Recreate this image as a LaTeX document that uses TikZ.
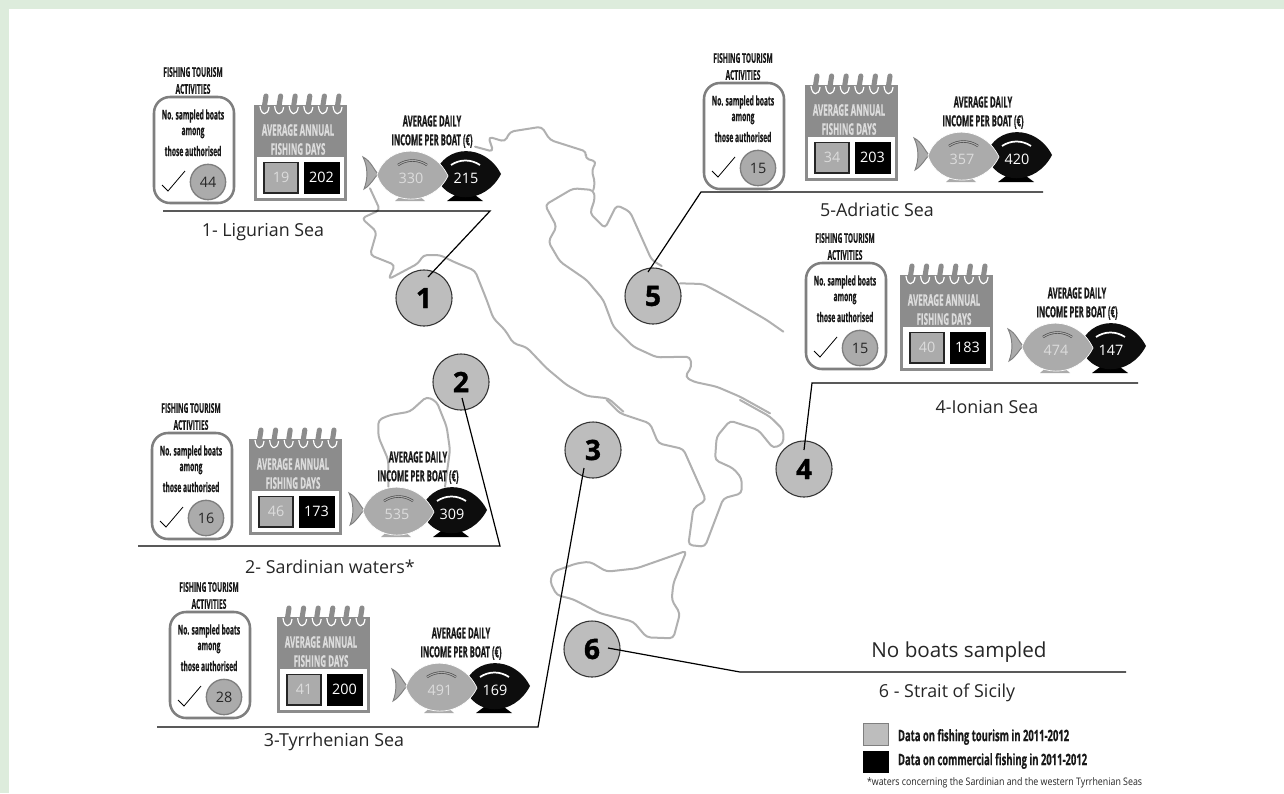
\documentclass[tikz,border=0pt]{standalone}
\usepackage{fontspec}
\setmainfont{Open Sans}
\newfontfamily\cnd[FakeStretch=0.5,BoldFeatures={FakeBold=0.4}]{Open Sans}
\newfontfamily\cndl[FakeStretch=0.6,BoldFeatures={FakeBold=0.4}]{Open Sans}
\newfontfamily\foot[FakeStretch=0.85]{Open Sans}
\newfontfamily\heavy[BoldFeatures={FakeBold=1.2}]{Open Sans}
\definecolor{bggreen}{HTML}{DDECDC}
\definecolor{mapgray}{HTML}{B0B0B0}
\definecolor{boxgray}{HTML}{7F7F7F}
\definecolor{calgray}{HTML}{8C8C8C}
\definecolor{lightfill}{HTML}{ABABAB}
\definecolor{circfill}{HTML}{BDBDBD}
\definecolor{paletxt}{HTML}{DCDCDC}
\tikzset{
  txt/.style={inner sep=0pt,outer sep=0pt,align=center},
  smalltitle/.style={txt,font=\fontsize{10}{11}\cnd\bfseries,text=black!90},
  headtitle/.style={txt,font=\fontsize{11.5}{12}\cnd\bfseries,text=black!90},
  caltitle/.style={txt,font=\fontsize{12}{13}\cnd\bfseries,text=paletxt},
  num/.style={txt,font=\fontsize{10.8}{11}\selectfont},
  sealabel/.style={txt,font=\fontsize{13.4}{14}\selectfont,text=black!85},
  mapline/.style={mapgray,line width=1.5pt,line join=round,line cap=round},
  leader/.style={black,line width=0.9pt,line join=miter},
  bignum/.style={circle,draw=black!80,line width=0.8pt,fill=circfill,minimum size=42pt,inner sep=0pt,outer sep=0pt,font=\fontsize{21}{22}\heavy\bfseries},
}
\newcommand\sampbox[4]{%
\begin{scope}[shift={(#2,#3)}]
  \node[smalltitle] (#1t1) at (39,-25) {FISHING TOURISM};
  \node[smalltitle] (#1t2) at (39,-8) {ACTIVITIES};
  \draw[boxgray,line width=1.9pt,fill=white,rounded corners=12pt] (0,0) rectangle (80,106);
  \node[smalltitle] (#1l1) at (39,19) {No. sampled boats};
  \node[smalltitle] (#1l2) at (39,36) {among};
  \node[smalltitle] (#1l3) at (39,54) {those authorised};
  \draw[black,line width=0.6pt] (8,88) -- (14,94) -- (31,74);
  \node[circle,draw=boxgray,line width=1pt,fill=lightfill,minimum size=26.5pt,inner sep=0pt,num,text=black!85] (#1n) at (54,85) {#4};
\end{scope}}
\newcommand\calpic[5]{%
\begin{scope}[shift={(#2,#3)}]
  \fill[calgray] (0,0) rectangle (93,96);
  \fill[white] (3,52) rectangle (90,93);
  \foreach \k in {0,1,2,3,4,5}{
    \pgfmathsetmacro\rx{11+14.6*\k}
    \draw[white,line width=0.9pt] (\rx-5,1) .. controls (\rx-4,11) and (\rx+3,11) .. (\rx+4,2);
    \draw[calgray,line width=3.8pt,line cap=round] (\rx+1,-9) -- (\rx-1,4);
  }
  \node[caltitle] (#1a) at (44,25) {AVERAGE ANNUAL};
  \node[caltitle] (#1b) at (44,44) {FISHING DAYS};
  \node[draw=black!85,line width=0.8pt,fill=lightfill,minimum width=25.5pt,minimum height=23.2pt,inner sep=0pt,num,text=paletxt] (#1x) at (27,72.5) {#4};
  \node[draw=black,fill=black,minimum width=26.2pt,minimum height=23.2pt,inner sep=0pt,num,text=white] (#1y) at (67.5,72.5) {#5};
\end{scope}}
\newcommand\fishpic[5]{%
\begin{scope}[shift={(#2,#3)}]
  \node[headtitle] (#1h1) at (69,-52) {AVERAGE DAILY};
  \node[headtitle] (#1h2) at (69,-32) {INCOME PER BOAT (€)};
  % black fish
  \fill[black] (84,28) -- (92,22) -- (112,22) -- (120,28) -- cycle;
  \fill[black!95] (72,1) .. controls (82,-29) and (122,-30) .. (138,1) .. controls (122,32) and (82,32) .. (72,1) -- cycle;
  \draw[white,line width=1.3pt] (88,-8) .. controls (97,-14) and (108,-14) .. (117,-8);
  % tail
  \draw[boxgray,line width=0.7pt,fill=lightfill] (0,-16) .. controls (8,-12) and (11,-3) .. (15,1) .. controls (11,5) and (8,12) .. (1,16) .. controls (5,6) and (5,-6) .. (0,-16) -- cycle;
  % foot
  \fill[lightfill] (32,28) -- (40,21) -- (54,21) -- (62,28) -- cycle;
  % light fish
  \draw[white,line width=0.5pt,fill=lightfill] (14,2) .. controls (24,-30) and (70,-30) .. (85,3) .. controls (70,34) and (24,34) .. (14,2) -- cycle;
  \draw[black!70,line width=1.8pt] (35,-8) .. controls (44,-14) and (55,-14) .. (64,-8);
  \draw[lightfill,line width=0.8pt] (35,-8) .. controls (44,-14) and (55,-14) .. (64,-8);
  \node[num,text=paletxt] (#1n1) at (48,5) {#4};
  \node[num,text=white] (#1n2) at (103,5) {#5};
\end{scope}}
\begin{document}
\begin{tikzpicture}[x=0.75pt,y=-0.75pt]
\useasboundingbox (0,0) rectangle (1284,793);
\fill[bggreen] (0,0) rectangle (1284,793);
\fill[white] (9,9) rectangle (1284,793);

% --- map of Italy
\begin{scope}[shift={(340,120)},x=0.25pt,y=-0.25pt]
  % north coast
  \draw[mapline,rounded corners=3pt] (405,80) -- (460,95) -- (445,50) -- (495,65) -- (510,35) -- (605,20) -- (630,60) -- (740,95) -- (735,115) -- (770,125) -- (755,150) -- (765,190) -- (760,210);
  % west coast
  \draw[mapline,rounded corners=3pt] (90,205) -- (120,270) -- (65,295) -- (110,335) -- (90,405) -- (165,435) -- (145,478) -- (235,430) -- (250,405) -- (300,405) -- (340,425) -- (405,452) -- (440,540) -- (460,595) -- (495,630) -- (520,670) -- (560,682) -- (620,745) -- (680,795) -- (740,828) -- (805,835) -- (850,875);
  % east coast
  \draw[mapline,rounded corners=3pt] (1290,880) -- (1200,830) -- (1130,800) -- (1060,785) -- (1035,770) -- (1055,740) -- (1050,710) -- (950,712) -- (880,680) -- (820,620) -- (790,540) -- (740,480) -- (660,425) -- (625,365) -- (650,320) -- (615,255) -- (700,205) -- (760,210) -- (765,235) -- (750,280) -- (795,325) -- (830,255) -- (870,275) -- (935,420) -- (965,438);
  \draw[mapline,rounded corners=3pt] (1020,490) -- (1090,492) -- (1160,530) -- (1280,600) -- (1330,635);
\end{scope}
\begin{scope}[shift={(440,400)},x=0.25pt,y=-0.25pt]
  % south
  \draw[mapline,rounded corners=3pt] (500,0) -- (540,40) -- (630,70) -- (655,130) -- (730,147) -- (798,300) -- (760,325) -- (745,435) -- (795,440) -- (850,295) -- (905,280) -- (905,235) -- (880,205) -- (825,180) -- (830,110) -- (870,62) -- (955,90) -- (1000,145) -- (1030,130) -- (1030,90) -- (990,50) -- (900,0);
  % Sicily
  \draw[mapline,rounded corners=3pt] (740,452) -- (690,470) -- (590,505) -- (500,515) -- (450,485) -- (410,490) -- (340,515) -- (330,545) -- (350,585) -- (400,598) -- (480,640) -- (580,665) -- (620,712) -- (700,715) -- (720,640) -- (695,600) -- (700,550) -- cycle;
\end{scope}
\begin{scope}[shift={(130,390)},x=0.25pt,y=-0.25pt]
  % Sardinia
  \draw[mapline,rounded corners=3pt] (775,290) -- (775,210) -- (745,140) -- (745,90) -- (780,75) -- (840,65) -- (890,20) -- (920,35) -- (950,110) -- (960,180) -- (945,290);
\end{scope}

% --- numbered circles
\node[bignum] (c1) at (424,298) {1};
\node[bignum] (c2) at (461,382) {2};
\node[bignum] (c3) at (593,450) {3};
\node[bignum] (c4) at (804,469) {4};
\node[bignum] (c5) at (653,296) {5};
\node[bignum] (c6) at (592,649) {6};

% --- leader lines
\coordinate (k1) at (428,277); \coordinate (e1) at (490,211); \coordinate (f1) at (163,211);
\coordinate (k2) at (462,398); \coordinate (e2) at (500,546); \coordinate (f2) at (138,546);
\coordinate (k3) at (584,468); \coordinate (e3) at (538,727); \coordinate (f3) at (157,727);
\coordinate (k4) at (804,450); \coordinate (e4) at (812,383); \coordinate (f4) at (1138,383);
\coordinate (k5) at (648,272); \coordinate (e5) at (701,192); \coordinate (f5) at (1043,192);
\coordinate (k6) at (608,648); \coordinate (e6) at (740,672); \coordinate (f6) at (1126,672);
\draw[leader] (k1) -- (e1) -- (f1);
\draw[leader] (k2) -- (e2) -- (f2);
\draw[leader] (k3) -- (e3) -- (f3);
\draw[leader] (k4) -- (e4) -- (f4);
\draw[leader] (k5) -- (e5) -- (f5);
\draw[leader] (k6) -- (e6) -- (f6);

% --- panels
\sampbox{ba}{154}{97}{44}  \calpic{ca}{254}{105}{19}{202} \fishpic{fa}{363}{173}{330}{215}
\sampbox{bb}{152}{433}{16} \calpic{cb}{249}{439}{46}{173} \fishpic{fb}{349}{509}{535}{309}
\sampbox{bc}{170}{612}{28} \calpic{cc}{277}{617}{41}{200} \fishpic{fc}{392}{685}{491}{169}
\sampbox{bd}{806}{263}{15} \calpic{cd}{900}{275}{40}{183} \fishpic{fd}{1008}{345}{474}{147}
\sampbox{be}{704}{83}{15}  \calpic{ce}{805}{85}{34}{203}  \fishpic{fe}{914}{154}{357}{420}

% --- sea labels
\node[sealabel] (s1) at (263,232) {1- Ligurian Sea};
\node[sealabel] (s2) at (330,567) {2- Sardinian waters*};
\node[sealabel] (s3) at (334,742) {3-Tyrrhenian Sea};
\node[sealabel] (s4) at (987,407) {4-Ionian Sea};
\node[sealabel] (s5) at (877,210) {5-Adriatic Sea};
\node[sealabel] (s6) at (947,693) {6 - Strait of Sicily};
\node[txt,font=\fontsize{15.5}{16}\selectfont,text=black!85] (nb) at (959,652) {No boats sampled};

% --- legend
\node[draw=boxgray,line width=0.7pt,fill=circfill,minimum width=18.7pt,minimum height=16.5pt,inner sep=0pt] (lg1) at (875.5,734) {};
\node[draw=black,fill=black,minimum width=18.7pt,minimum height=15.7pt,inner sep=0pt] (lg2) at (875.5,761.5) {};
\node[smalltitle,anchor=west,font=\fontsize{11.8}{12}\cndl\bfseries] (lt1) at (898,737) {Data on fishing tourism in 2011-2012};
\node[smalltitle,anchor=west,font=\fontsize{11.8}{12}\cndl\bfseries] (lt2) at (898,761) {Data on commercial fishing in 2011-2012};
\node[txt,anchor=west,font=\fontsize{7.8}{8}\foot,text=black!85] (lt3) at (867,783) {*waters concerning the Sardinian and the western Tyrrhenian Seas};
\end{tikzpicture}
\end{document}
